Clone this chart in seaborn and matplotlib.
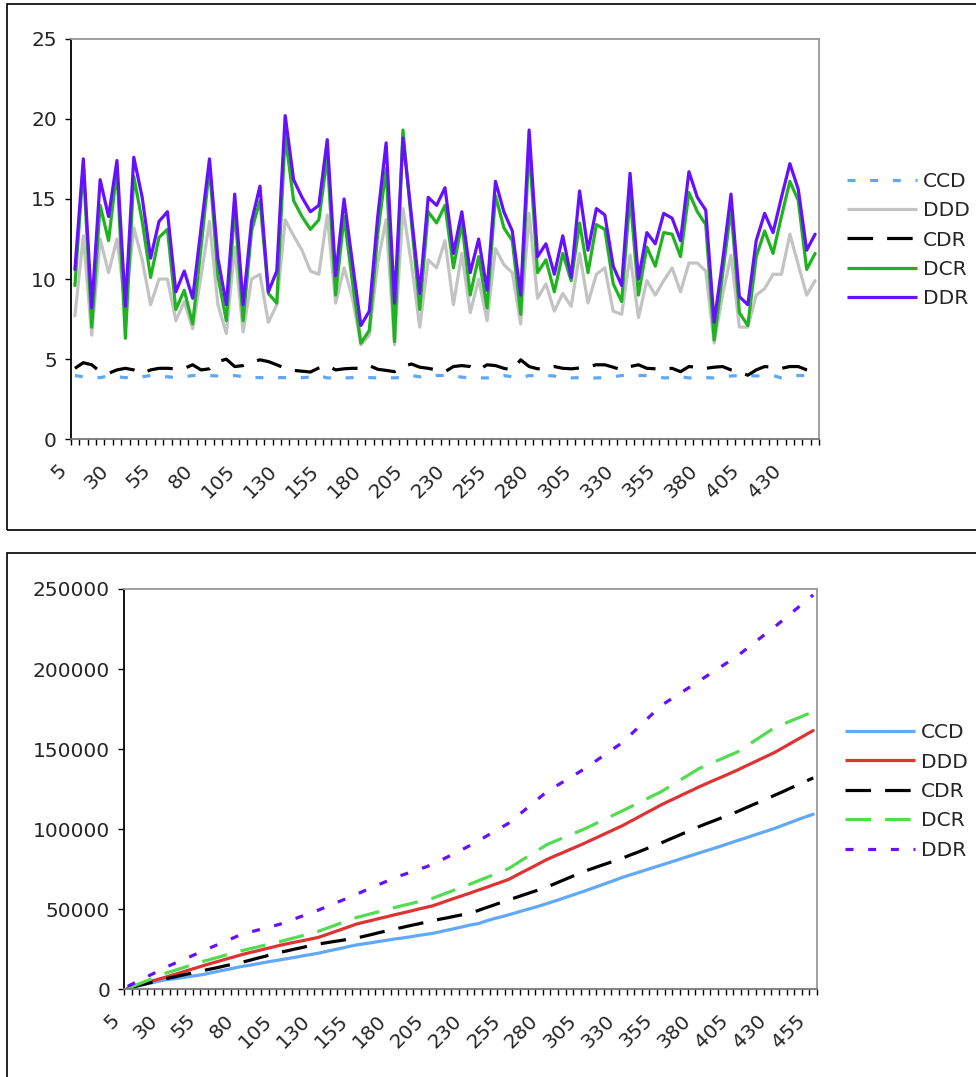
import numpy as np
import pandas as pd
import seaborn as sns
import matplotlib.pyplot as plt
import matplotlib.transforms as mtrans
from matplotlib.lines import Line2D
from matplotlib.patches import Rectangle

# ---- top chart data (categories 5..445) ----
top_cats = list(range(5, 450, 5))
top_ccd = [3.98, 3.9, 3.83, 3.85, 3.95, 3.9, 3.85, 3.85, 3.9, 3.98,
           3.95, 3.9, 3.85, 3.9, 3.98, 3.98, 3.98, 3.95, 3.95, 3.98,
           3.9, 3.85, 3.85, 3.83, 3.85, 3.85, 3.85, 3.85, 3.88, 3.98,
           3.83, 3.83, 3.83, 3.85, 3.9, 3.85, 3.83, 3.85, 3.83, 3.88,
           3.98, 3.9, 3.85, 3.98, 3.98, 3.95, 3.88, 3.83, 3.83, 3.83,
           3.9, 3.98, 3.9, 3.83, 3.98, 3.95, 3.98, 3.95, 3.83, 3.83,
           3.85, 3.83, 3.83, 3.85, 3.9, 3.98, 3.95, 3.98, 3.98, 3.95,
           3.83, 3.85, 3.9, 3.83, 3.83, 3.85, 3.83, 3.9, 3.95, 3.98,
           3.98, 3.95, 3.98, 3.98, 3.83, 3.88, 3.98, 3.98, 3.98]
top_ddd = [7.7, 12.7, 6.5, 12.5, 10.4, 12.5, 8.3, 13.2, 11.2, 8.4,
           10.0, 10.0, 7.4, 8.6, 6.9, 10.2, 13.6, 8.4, 6.6, 12.0,
           6.7, 10.0, 10.3, 7.3, 8.4, 13.7, 12.7, 11.8, 10.5, 10.3,
           14.0, 8.5, 10.7, 8.8, 5.9, 6.5, 11.0, 13.7, 5.9, 14.4,
           11.0, 7.0, 11.2, 10.7, 12.4, 8.4, 11.6, 7.9, 10.0, 7.4,
           11.9, 10.9, 10.4, 7.2, 14.1, 8.8, 9.7, 8.0, 9.1, 8.3,
           11.6, 8.5, 10.3, 10.7, 8.0, 7.8, 11.5, 7.6, 9.9, 9.0,
           9.9, 10.7, 9.2, 11.0, 11.0, 10.5, 6.0, 9.0, 11.5, 7.0,
           7.0, 9.0, 9.4, 10.3, 10.3, 12.8, 10.9, 9.0, 9.9]
top_cdr = [4.43, 4.78, 4.65, 4.22, 4.12, 4.33, 4.43, 4.33, 4.12, 4.33,
           4.43, 4.43, 4.4, 4.43, 4.65, 4.33, 4.4, 4.85, 5.0, 4.54,
           4.6, 4.8, 4.96, 4.85, 4.65, 4.43, 4.3, 4.25, 4.2, 4.45,
           4.6, 4.33, 4.4, 4.43, 4.43, 4.6, 4.37, 4.3, 4.22, 4.54,
           4.7, 4.5, 4.43, 4.33, 4.22, 4.54, 4.6, 4.54, 4.33, 4.65,
           4.6, 4.43, 4.33, 4.96, 4.54, 4.4, 4.43, 4.54, 4.43, 4.4,
           4.45, 4.54, 4.65, 4.65, 4.5, 4.33, 4.54, 4.65, 4.43, 4.4,
           4.37, 4.43, 4.22, 4.54, 4.5, 4.43, 4.5, 4.54, 4.33, 4.2,
           4.0, 4.33, 4.54, 4.5, 4.43, 4.54, 4.54, 4.33, 4.2]
top_dcr = [9.6, 17.1, 7.0, 14.6, 12.4, 16.8, 6.3, 16.4, 13.6, 10.1,
           12.6, 13.1, 8.1, 9.3, 7.2, 12.0, 17.0, 10.2, 7.4, 14.4,
           7.4, 13.0, 14.9, 9.1, 8.5, 19.0, 14.9, 13.9, 13.1, 13.7,
           17.6, 9.0, 13.9, 9.8, 6.0, 6.8, 12.8, 16.9, 6.1, 19.3,
           13.6, 8.1, 14.2, 13.5, 14.6, 10.7, 13.5, 9.0, 11.4, 8.2,
           15.2, 13.2, 12.4, 7.8, 18.3, 10.4, 11.2, 9.2, 11.6, 9.9,
           13.5, 10.4, 13.4, 13.1, 9.7, 8.6, 15.2, 9.0, 12.0, 10.8,
           12.9, 12.8, 11.4, 15.4, 14.2, 13.4, 6.2, 10.3, 14.4, 7.9,
           7.1, 11.4, 13.0, 11.6, 13.9, 16.1, 14.9, 10.6, 11.6]
top_ddr = [10.6, 17.5, 8.2, 16.2, 13.9, 17.4, 8.3, 17.6, 15.1, 11.3,
           13.6, 14.2, 9.2, 10.5, 8.8, 13.2, 17.5, 11.3, 8.4, 15.3,
           8.4, 13.6, 15.8, 9.2, 10.5, 20.2, 16.2, 15.1, 14.2, 14.6,
           18.7, 10.2, 15.0, 11.0, 7.1, 8.0, 13.9, 18.5, 8.5, 18.8,
           14.0, 9.1, 15.1, 14.6, 15.7, 11.6, 14.2, 10.4, 12.5, 9.3,
           16.1, 14.2, 13.0, 9.0, 19.3, 11.4, 12.2, 10.3, 12.7, 10.1,
           15.5, 11.8, 14.4, 14.0, 10.8, 9.6, 16.6, 10.0, 12.9, 12.2,
           14.1, 13.8, 12.4, 16.7, 15.1, 14.3, 7.3, 11.1, 15.3, 8.9,
           8.4, 12.4, 14.1, 12.9, 15.1, 17.2, 15.6, 11.8, 12.8]

# ---- bottom chart data (categories 5..455) ----
bot_cats = list(range(5, 460, 5))
bot_ccd = [800, 1900, 2900, 3900, 5000, 6000, 6500, 7200, 7900, 8600,
           9300, 10400, 11400, 12300, 13300, 14300, 15000, 15900, 16800, 17600,
           18400, 19200, 20000, 20900, 21700, 22500, 23600, 24600, 25600, 26700,
           27700, 28400, 29100, 29900, 30600, 31400, 32000, 32700, 33500, 34200,
           34900, 35900, 37000, 38000, 39100, 40200, 41000, 42600, 44000, 45200,
           46500, 47900, 49300, 50600, 52000, 53500, 55000, 56600, 58200, 59800,
           61400, 63100, 64800, 66500, 68200, 70000, 71500, 73000, 74500, 76000,
           77500, 79000, 80500, 82100, 83600, 85100, 86600, 88100, 89600, 91200,
           92800, 94300, 95900, 97500, 99000, 100600, 102400, 104200, 106000, 107700,
           109300]
bot_ddd = [800, 2200, 3600, 4900, 6300, 7600, 9100, 10500, 12000, 13400,
           14900, 16300, 17600, 19000, 20300, 21700, 22900, 24000, 25200, 26300,
           27500, 28500, 29500, 30400, 31400, 32400, 34000, 35700, 37300, 39000,
           40700, 41900, 43000, 44200, 45300, 46500, 47600, 48700, 49900, 51000,
           52100, 53700, 55400, 57000, 58600, 60200, 61900, 63500, 65200, 66900,
           68600, 71100, 73600, 76000, 78500, 81000, 83100, 85100, 87200, 89200,
           91300, 93500, 95700, 97900, 100100, 102300, 104900, 107400, 110000, 112500,
           115100, 117400, 119600, 121900, 124100, 126400, 128500, 130600, 132600, 134700,
           136800, 139100, 141300, 143600, 145800, 148100, 150800, 153500, 156200, 158900,
           161600]
bot_cdr = [600, 1800, 3000, 4200, 5400, 6600, 7600, 8700, 9700, 10800,
           11800, 12800, 13800, 14900, 15900, 16900, 18100, 19400, 20600, 21900,
           23100, 24100, 25200, 26200, 27300, 28300, 29000, 29800, 30500, 31300,
           32000, 33100, 34200, 35400, 36500, 37600, 38600, 39700, 40700, 41800,
           42800, 43800, 44700, 45700, 46600, 47600, 49200, 50900, 52500, 54200,
           55800, 57400, 59000, 60600, 62200, 63800, 65800, 67800, 69800, 71800,
           73800, 75400, 77100, 78700, 80400, 82000, 83900, 85700, 87600, 89400,
           91300, 93400, 95400, 97500, 99500, 101600, 103500, 105300, 107200, 109000,
           110900, 113000, 115100, 117100, 119200, 121300, 123400, 125600, 127700, 129900,
           132000]
bot_dcr = [600, 2500, 4400, 6300, 8200, 10100, 11600, 13100, 14600, 16100,
           17600, 18900, 20200, 21600, 22900, 24200, 25300, 26400, 27600, 28700,
           29800, 31100, 32300, 33600, 34900, 36200, 37900, 39600, 41400, 43100,
           44800, 46000, 47300, 48500, 49800, 51000, 52200, 53300, 54500, 55600,
           56800, 58600, 60400, 62200, 64000, 65800, 67700, 69600, 71500, 73500,
           75400, 78400, 81400, 84300, 87300, 90300, 92300, 94300, 96200, 98200,
           100200, 102500, 104800, 107000, 109300, 111600, 113900, 116300, 118600, 121000,
           123300, 126200, 129100, 132000, 134900, 137800, 139900, 142000, 144000, 146100,
           148100, 151200, 154300, 157400, 160500, 163600, 165500, 167500, 169400, 171400,
           173300]
bot_ddr = [1900, 4300, 6700, 9000, 11400, 13800, 15900, 18000, 20000, 22100,
           24200, 26300, 28300, 30400, 32400, 34500, 35700, 36900, 38200, 39400,
           40700, 42400, 44200, 45900, 47700, 49400, 51400, 53400, 55300, 57300,
           59300, 61400, 63400, 65500, 67500, 69600, 71300, 72900, 74600, 76200,
           77900, 80300, 82700, 85100, 87500, 90000, 92700, 95400, 98200, 100900,
           103700, 107600, 111500, 115500, 119400, 123300, 126200, 129100, 132000, 134900,
           137800, 141100, 144400, 147700, 151000, 154300, 158900, 163400, 168000, 172500,
           177100, 180200, 183300, 186300, 189400, 192500, 195600, 198700, 201800, 204900,
           208000, 211700, 215400, 219200, 222900, 226600, 230500, 234500, 238400, 242400,
           246300]

series_names = ["CCD", "DDD", "CDR", "DCR", "DDR"]

W, H = 976, 1077
sns.set_theme(style="white")
plt.rcParams["font.family"] = ["DejaVu Sans"]

LW = 2.3
sq_dot = (2.5, 4.6)
long_dash = (8.0, 4.4)

top_palette = {"CCD": "#5fa8f8", "DDD": "#c3c3c3", "CDR": "#000000",
               "DCR": "#1fb41f", "DDR": "#6610ff"}
top_dashes = {"CCD": sq_dot, "DDD": "", "CDR": long_dash, "DCR": "", "DDR": ""}
bot_palette = {"CCD": "#62a8f8", "DDD": "#de3333", "CDR": "#000000",
               "DCR": "#52dc52", "DDR": "#6610ff"}
bot_dashes = {"CCD": "", "DDD": "", "CDR": long_dash, "DCR": long_dash, "DDR": sq_dot}


def long_frame(cats, cols):
    frames = []
    for name, vals in zip(series_names, cols):
        frames.append(pd.DataFrame({"pos": np.arange(len(cats)), "value": vals, "series": name}))
    return pd.concat(frames, ignore_index=True)


def style_axes(fig, ax, cats, yticks, ylabels):
    n = len(cats)
    ax.set_xlim(-0.5, n - 0.5)
    ax.set_ylim(yticks[0], yticks[-1])
    major = list(range(0, n, 5))
    ax.set_xticks(major)
    ax.set_xticklabels([str(cats[i]) for i in major], rotation=45, ha="right",
                       va="top", rotation_mode="anchor", fontsize=14.5)
    ax.set_xticks(np.arange(-0.5, n, 1), minor=True)
    ax.tick_params(axis="x", which="major", length=0, pad=15.5)
    ax.tick_params(axis="x", which="minor", length=4, width=1, color="black",
                   direction="out", bottom=True)
    # excel puts the rotated labels a bit left of the category centre
    shift = mtrans.ScaledTranslation(-18 / 100, 0, fig.dpi_scale_trans)
    for lab in ax.get_xticklabels():
        lab.set_transform(lab.get_transform() + shift)
    ax.set_yticks(yticks)
    ax.set_yticklabels(ylabels, fontsize=14.5)
    ax.tick_params(axis="y", length=4, width=1, color="black", direction="out",
                   left=True, pad=6)
    ax.set_xlabel("")
    ax.set_ylabel("")
    ax.grid(False)
    ax.spines["left"].set_color("black")
    ax.spines["bottom"].set_color("#777777")
    ax.spines["top"].set_color("#999999")
    ax.spines["right"].set_color("#999999")
    for s in ax.spines.values():
        s.set_linewidth(1.3)


def add_legend(fig, palette, dashes, x0, yc):
    handles = []
    for name in series_names:
        h = Line2D([0], [0], color=palette[name], lw=LW, solid_capstyle="butt")
        if dashes[name]:
            h.set_dashes(dashes[name])
        handles.append(h)
    fig.legend(handles, series_names, loc="center left", bbox_to_anchor=(x0, yc),
               frameon=False, fontsize=14.5, handlelength=3.5, handletextpad=0.25,
               labelspacing=0.52, borderpad=0, borderaxespad=0)


fig = plt.figure(figsize=(W / 100, H / 100), dpi=100)

# panel frames
fig.add_artist(Rectangle((7 / W, 1 - 530 / H), 1.0, (530 - 4) / H,
                         transform=fig.transFigure, fill=False, ec="black", lw=1.2))
fig.add_artist(Rectangle((7 / W, -0.01), 1.0, (1077 - 553) / H + 0.01,
                         transform=fig.transFigure, fill=False, ec="black", lw=1.2))

# top chart
ax1 = fig.add_axes([70.7 / W, 1 - 439.3 / H, 748.6 / W, 400.6 / H])
df_top = long_frame(top_cats, [top_ccd, top_ddd, top_cdr, top_dcr, top_ddr])
sns.lineplot(data=df_top, x="pos", y="value", hue="series", style="series",
             hue_order=series_names, style_order=series_names,
             palette=top_palette, dashes=top_dashes, linewidth=LW,
             legend=False, sort=False, ax=ax1)
style_axes(fig, ax1, top_cats, [0, 5, 10, 15, 20, 25], ["0", "5", "10", "15", "20", "25"])
add_legend(fig, top_palette, top_dashes, 847 / W, 1 - 240 / H)

# bottom chart
ax2 = fig.add_axes([124 / W, 1 - 989.3 / H, 693 / W, 400.3 / H])
df_bot = long_frame(bot_cats, [bot_ccd, bot_ddd, bot_cdr, bot_dcr, bot_ddr])
sns.lineplot(data=df_bot, x="pos", y="value", hue="series", style="series",
             hue_order=series_names, style_order=series_names,
             palette=bot_palette, dashes=bot_dashes, linewidth=LW,
             legend=False, sort=False, ax=ax2)
yt = [0, 50000, 100000, 150000, 200000, 250000]
style_axes(fig, ax2, bot_cats, yt, [str(v) for v in yt])
add_legend(fig, bot_palette, bot_dashes, 845 / W, 1 - 791.5 / H)

fig.savefig("out.png", dpi=100)
